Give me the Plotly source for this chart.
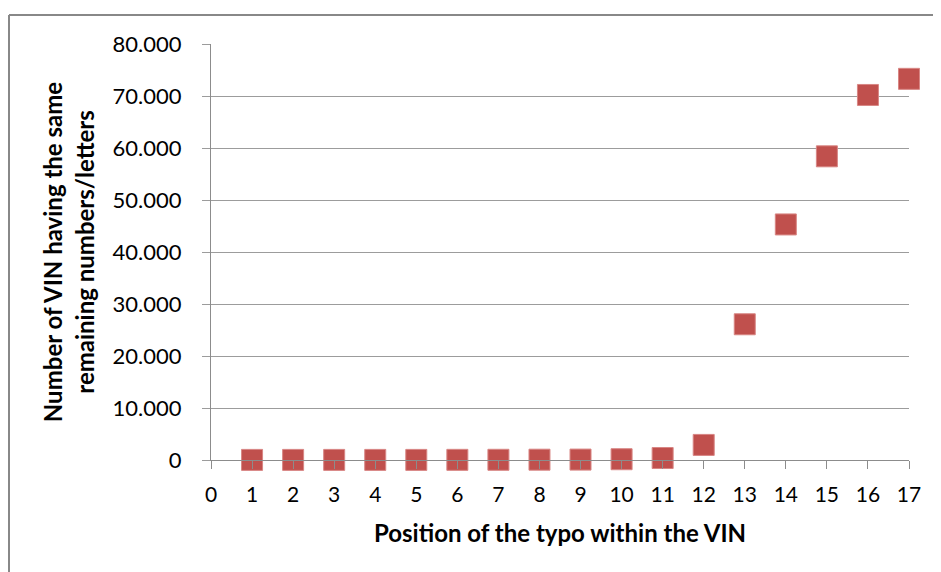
import plotly.graph_objects as go

positions = list(range(1, 18))
vin_counts = [20, 20, 20, 20, 20, 30, 40, 60, 80, 150, 380, 2900, 26100, 45300, 58400, 70200, 73300]

x_ticks = list(range(0, 18))
y_ticks = list(range(0, 80001, 10000))

# page has an 8px body margin; plot area target: x 211..909, y 44..460 in the viewport
OFF = 8
L, R, T, B = 211 - OFF, 909 - OFF, 44 - OFF, 460 - OFF
W, H = 941, 572
PW, PH = R - L, B - T


def px(xv):
    return (xv - OFF - L) / PW


def py(yv):
    return (B - (yv - OFF)) / PH


fig = go.Figure()
fig.add_trace(go.Scatter(
    x=positions, y=vin_counts, mode="markers",
    marker=dict(symbol="square", size=21, color="#C0504D",
                line=dict(color="#D88684", width=1)),
    cliponaxis=False, showlegend=False, hoverinfo="x+y"
))

font_family = "Lato, 'Open Sans', sans-serif"
fig.update_layout(
    width=W, height=H,
    margin=dict(l=L, r=W - R, t=T, b=H - B),
    paper_bgcolor="white", plot_bgcolor="white",
    separators=",.",
    font=dict(family=font_family, size=20, color="#000000"),
    xaxis=dict(
        range=[0, 17], tickmode="array", tickvals=x_ticks,
        showgrid=False, zeroline=False,
        showline=True, linecolor="#8c8c8c", linewidth=1,
        ticks="outside", ticklen=8, tickcolor="#8c8c8c",
        ticklabelstandoff=8,
        tickfont=dict(size=21),
        title=dict(text="<b>Position of the typo within the VIN</b>",
                   font=dict(size=24), standoff=19),
    ),
    yaxis=dict(
        range=[0, 80000], tickmode="array", tickvals=y_ticks,
        tickformat=",d",
        showgrid=True, gridcolor="#9c9c9c", gridwidth=1,
        zeroline=False,
        showline=True, linecolor="#8c8c8c", linewidth=1,
        ticks="outside", ticklen=8, tickcolor="#9c9c9c",
        ticklabelstandoff=16,
        tickfont=dict(size=22),
        title=dict(text="<b>Number of VIN having the same<br>remaining numbers/letters</b>",
                   font=dict(size=24), standoff=11),
    ),
    shapes=[
        dict(type="line", xref="paper", yref="paper",
             x0=px(9), x1=px(960), y0=py(15), y1=py(15),
             line=dict(color="#888888", width=2)),
        dict(type="line", xref="paper", yref="paper",
             x0=px(9), x1=px(9), y0=py(15), y1=py(600),
             line=dict(color="#888888", width=2)),
    ],
)

fig.write_html("out.html")
